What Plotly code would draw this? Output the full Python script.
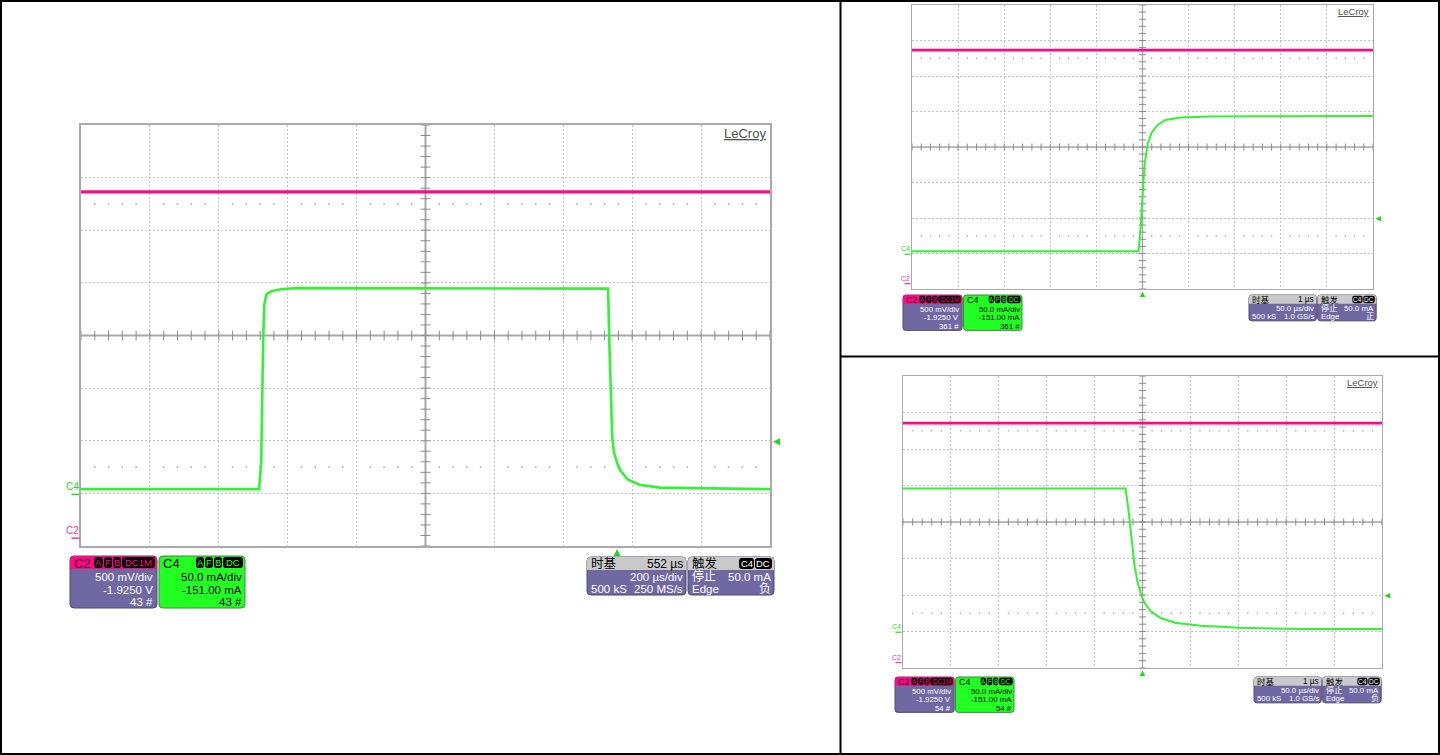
import plotly.graph_objects as go

W, H = 1440, 755

# ---------------- waveform data ----------------
# time in µs (0 = trigger), C4 = load current in mA, C2 = supply voltage in V

# full pulse, 200 µs/div, trigger on the falling edge
main_time = [-1556, -1039, -1033, -1030, -1027, -1024, -1018, -1004, -975, -930,
             -500, -26, -22, -18, -14, -9, 0, 9, 32, 67, 125, 444]
main_c4 = [5, 5, 30, 100, 150, 180, 190, 193, 195, 196,
           196, 195.5, 140, 90, 55, 40, 30, 23, 14, 9, 6.5, 5]
main_c2_time = [-1556, 444]
main_c2 = [3.29, 3.29]

# rising edge, 50 µs/div
rise_time = [-250, -4.3, -2.2, 0, 2.2, 5.4, 9.8, 16.3, 25, 41, 74, 250]
rise_c4 = [4, 4, 34, 83, 126, 154, 171, 182, 189, 192.5, 194, 194.6]
rise_c2_time = [-250, 250]
rise_c2 = [3.29, 3.29]

# falling edge, 50 µs/div
fall_time = [-250, -17.7, -14.6, -11.5, -8.4, -5.2, -2.1, 2.1, 8.4, 18.8, 34, 60.5,
             102, 165, 250]
fall_c4 = [197, 197, 167, 126, 92, 69, 54, 40, 29, 19.5, 13, 8.8, 6, 4.5, 4.4]
fall_c2_time = [-250, 250]
fall_c2 = [3.28, 3.28]

# vertical settings of the two channels
C4_SCALE, C4_OFFSET = 50.0, -151.0     # mA/div, mA
C2_SCALE, C2_OFFSET = 0.5, -1.925      # V/div, V
TRIG_LEVEL = 50.0                      # mA

panels = [
    dict(plot=(81, 125, 770, 546), t_left=-1556, t_div=200,
         time=main_time, c4=main_c4, c2t=main_c2_time, c2=main_c2,
         ch_org=(70, 556), tb_org=(587, 557), s=1.0, count="43 #",
         delay="552 µs", tdiv="200 µs/div", srate="250 MS/s", edge="负",
         lw=2.6, big=True),
    dict(plot=(912, 5, 1373, 289), t_left=-250, t_div=50,
         time=rise_time, c4=rise_c4, c2t=rise_c2_time, c2=rise_c2,
         ch_org=(903, 295), tb_org=(1249, 295), s=0.68, count="361 #",
         delay="1 µs", tdiv="50.0 µs/div", srate="1.0 GS/s", edge="正",
         lw=2.0, big=False),
    dict(plot=(903, 376, 1382, 668), t_left=-250, t_div=50,
         time=fall_time, c4=fall_c4, c2t=fall_c2_time, c2=fall_c2,
         ch_org=(895, 677), tb_org=(1254, 677), s=0.68, count="54 #",
         delay="1 µs", tdiv="50.0 µs/div", srate="1.0 GS/s", edge="负",
         lw=2.0, big=False),
]

RED = "#ff0a84"
GREEN = "#33f233"
TRIG_GREEN = "#1ed81e"
BOX_BODY = "#7068a2"
BOX_EDGE = "#4d4a6e"
HEAD_GRAY = "#c9c9c9"
GRID = "#c2c2c2"
CROSS = "#a8a8a8"
FONT = "Liberation Sans, Arial, Noto Sans CJK SC"


def X(px):
    return px / W


def Y(py):
    return 1 - py / H


fig = go.Figure()
shapes, annotations = [], []


def text(x, y, s, size, color, anchor="left", yanchor="middle"):
    annotations.append(dict(
        x=X(x), y=Y(y), xref="paper", yref="paper", text=s, showarrow=False,
        xanchor=anchor, yanchor=yanchor, borderpad=0,
        font=dict(family=FONT, size=size, color=color)))


def rbox(x0, y0, x1, y1, r, fill, edge=None, lw=1, top_only=False):
    if top_only:
        p = (f"M {X(x0)},{Y(y1)} L {X(x0)},{Y(y0 + r)} Q {X(x0)},{Y(y0)} {X(x0 + r)},{Y(y0)} "
             f"L {X(x1 - r)},{Y(y0)} Q {X(x1)},{Y(y0)} {X(x1)},{Y(y0 + r)} "
             f"L {X(x1)},{Y(y1)} Z")
    else:
        p = (f"M {X(x0 + r)},{Y(y0)} L {X(x1 - r)},{Y(y0)} Q {X(x1)},{Y(y0)} {X(x1)},{Y(y0 + r)} "
             f"L {X(x1)},{Y(y1 - r)} Q {X(x1)},{Y(y1)} {X(x1 - r)},{Y(y1)} "
             f"L {X(x0 + r)},{Y(y1)} Q {X(x0)},{Y(y1)} {X(x0)},{Y(y1 - r)} "
             f"L {X(x0)},{Y(y0 + r)} Q {X(x0)},{Y(y0)} {X(x0 + r)},{Y(y0)} Z")
    shapes.append(dict(type="path", path=p, xref="paper", yref="paper",
                       fillcolor=fill, layer="above",
                       line=dict(color=edge if edge else fill, width=lw if edge else 0)))


def tags(right, top, s, items, txt_color):
    # small black badges, right aligned
    x = right
    for label, w in reversed(items):
        rbox(x - w * s, top + 1 * s, x, top + 12 * s, 3 * s, "#000000")
        text(x - w * s / 2, top + 6.7 * s, label, 9.5 * s, txt_color, "center")
        x -= (w + 1) * s


def channel_boxes(ox, oy, s, count):
    w, h, hb = 87, 52, 13
    # C2 readout
    rbox(ox, oy, ox + w * s, oy + h * s, 4 * s, BOX_BODY, BOX_EDGE)
    rbox(ox, oy, ox + w * s, oy + hb * s, 4 * s, RED, top_only=True)
    text(ox + 3 * s, oy + 7 * s, "C2", 13 * s, "#3a0022")
    tags(ox + (w - 2) * s, oy, s, [("A", 9), ("F", 8), ("B", 8), ("DC1M", 33)], RED)
    for dy, t in ((21, "500 mV/div"), (33.5, "-1.9250 V"), (46, count)):
        text(ox + (w - 3) * s, oy + dy * s, t, 11.5 * s, "#ffffff", "right")
    # C4 readout
    cx = ox + 89 * s
    w4 = 86
    rbox(cx, oy, cx + w4 * s, oy + h * s, 4 * s, "#22ff22", "#3c8a3c")
    text(cx + 3 * s, oy + 7 * s, "C4", 13 * s, "#000000")
    tags(cx + (w4 - 2) * s, oy, s, [("A", 8), ("F", 8), ("B", 8), ("DC", 20)], "#22ff22")
    for dy, t in ((21, "50.0 mA/div"), (33.5, "-151.00 mA"), (46, count)):
        text(cx + (w4 - 2) * s, oy + dy * s, t, 11.5 * s, "#000000", "right")


def time_boxes(ox, oy, s, delay, tdiv, srate, edge):
    w, h, hb = 99, 38, 13
    rbox(ox, oy, ox + w * s, oy + h * s, 4 * s, BOX_BODY, BOX_EDGE)
    rbox(ox, oy, ox + w * s, oy + hb * s, 4 * s, HEAD_GRAY, top_only=True)
    text(ox + 3 * s, oy + 6.8 * s, "时基", 12.5 * s, "#000000")
    text(ox + (w - 2) * s, oy + 6.8 * s, delay, 12 * s, "#000000", "right")
    text(ox + (w - 2) * s, oy + 19.5 * s, tdiv, 11.5 * s, "#ffffff", "right")
    text(ox + 3 * s, oy + 31.5 * s, "500 kS", 11.5 * s, "#ffffff")
    text(ox + (w - 2) * s, oy + 31.5 * s, srate, 11.5 * s, "#ffffff", "right")
    tx = ox + 101 * s
    wt = 86
    rbox(tx, oy, tx + wt * s, oy + h * s, 4 * s, BOX_BODY, BOX_EDGE)
    rbox(tx, oy, tx + wt * s, oy + hb * s, 4 * s, HEAD_GRAY, top_only=True)
    text(tx + 3 * s, oy + 6.8 * s, "触发", 12.5 * s, "#000000")
    tags(tx + (wt - 2) * s, oy, s, [("C4", 15), ("DC", 17)], "#ffffff")
    text(tx + 3 * s, oy + 19.5 * s, "停止", 12 * s, "#ffffff")
    text(tx + (wt - 2) * s, oy + 19.5 * s, "50.0 mA", 11.5 * s, "#ffffff", "right")
    text(tx + 3 * s, oy + 31.5 * s, "Edge", 11.5 * s, "#ffffff")
    text(tx + (wt - 2) * s, oy + 31.5 * s, edge, 12 * s, "#ffffff", "right")


for k, p in enumerate(panels):
    n = k + 1
    xa = "x" if n == 1 else f"x{n}"
    yi_n, yv_n = 2 * k + 1, 2 * k + 2
    ya = "y" if yi_n == 1 else f"y{yi_n}"
    yv = f"y{yv_n}"
    px0, py0, px1, py1 = p["plot"]
    s = p["s"]
    big = p["big"]

    t0 = p["t_left"]
    t1 = t0 + 10 * p["t_div"]
    ic = -C4_OFFSET
    i0, i1 = ic - 4 * C4_SCALE, ic + 4 * C4_SCALE
    vc = -C2_OFFSET
    v0, v1 = vc - 4 * C2_SCALE, vc + 4 * C2_SCALE
    tc = (t0 + t1) / 2

    frame = dict(showticklabels=False, ticks="", zeroline=False, showline=True,
                 mirror=True, linecolor="#aaaaaa", linewidth=2 if big else 1.2,
                 showgrid=True, gridcolor=GRID, gridwidth=1, griddash="2px,2px",
                 fixedrange=True)
    fig.update_layout(**{
        ("xaxis" if n == 1 else f"xaxis{n}"): dict(
            domain=[X(px0), X(px1)], range=[t0, t1], anchor=ya,
            tick0=t0, dtick=p["t_div"], **frame),
        ("yaxis" if yi_n == 1 else f"yaxis{yi_n}"): dict(
            domain=[Y(py1), Y(py0)], range=[i0, i1], anchor=xa,
            tick0=i0, dtick=C4_SCALE, **frame),
        f"yaxis{yv_n}": dict(overlaying=ya, range=[v0, v1], anchor=xa,
                             visible=False, fixedrange=True),
    })

    common = dict(xaxis=xa, yaxis=ya, hoverinfo="skip", showlegend=False)
    cw = 2 if big else 1.3
    tick_len = 7 if big else 5
    # centre crosshair with fifth-division ticks
    fig.add_trace(go.Scatter(x=[t0, t1], y=[ic, ic], mode="lines",
                             line=dict(color=CROSS, width=cw), **common))
    fig.add_trace(go.Scatter(x=[tc, tc], y=[i0, i1], mode="lines",
                             line=dict(color=CROSS, width=cw), **common))
    sub_t = p["t_div"] / 5
    sub_i = C4_SCALE / 5
    fig.add_trace(go.Scatter(
        x=[tc + j * sub_t for j in range(-25, 26)], y=[ic] * 51, mode="markers",
        marker=dict(symbol="line-ns-open", size=tick_len, color="#8c8c8c",
                    line=dict(width=1)), **common))
    fig.add_trace(go.Scatter(
        x=[tc] * 41, y=[ic + j * sub_i for j in range(-20, 21)], mode="markers",
        marker=dict(symbol="line-ew-open", size=tick_len, color="#8c8c8c",
                    line=dict(width=1)), **common))
    # dotted rows half way through the outer divisions
    dots_x = [tc + j * sub_t for j in range(-24, 25) if j % 5 != 0]
    for yy in (ic + 2.5 * C4_SCALE, ic - 2.5 * C4_SCALE):
        fig.add_trace(go.Scatter(
            x=dots_x, y=[yy] * len(dots_x), mode="markers",
            marker=dict(symbol="square", size=1.6 if big else 1.3, color="#a8a8a8",
                        line=dict(width=0)), **common))

    # waveforms
    fig.add_trace(go.Scatter(x=p["c2t"], y=p["c2"], mode="lines", xaxis=xa, yaxis=yv,
                             line=dict(color=RED, width=p["lw"] + 0.6),
                             hoverinfo="skip", showlegend=False))
    fig.add_trace(go.Scatter(x=p["time"], y=p["c4"], mode="lines",
                             line=dict(color=GREEN, width=p["lw"]), **common))

    # trigger level marker (right of the grid) and trigger position marker (below it)
    pw, ph = px1 - px0, py1 - py0
    gap = 3 if big else 2.5
    tri = 7 if big else 5.5
    du = (i1 - i0) / ph          # mA per pixel
    tu = (t1 - t0) / pw          # µs per pixel
    shapes.append(dict(
        type="path", xref="paper", yref=ya, fillcolor=TRIG_GREEN, layer="above",
        line=dict(width=0),
        path=(f"M {X(px1 + gap)},{TRIG_LEVEL} L {X(px1 + gap + tri)},{TRIG_LEVEL + tri / 2 * du} "
              f"L {X(px1 + gap + tri)},{TRIG_LEVEL - tri / 2 * du} Z")))
    shapes.append(dict(
        type="path", xref=xa, yref="paper", fillcolor=TRIG_GREEN, layer="above",
        line=dict(width=0),
        path=(f"M 0,{Y(py1 + gap)} L {tri / 2 * tu},{Y(py1 + gap + tri)} "
              f"L {-tri / 2 * tu},{Y(py1 + gap + tri)} Z")))

    # channel ground markers on the left edge
    fs = 10 if big else 7
    ul = 8 if big else 6
    for ref, col, lab in ((ya, "#22dd22", "C4"), (yv, "#ff3399", "C2")):
        annotations.append(dict(
            x=X(px0 - 1.5), y=0, xref="paper", yref=ref, text=lab, showarrow=False,
            xanchor="right", yanchor="bottom", borderpad=0, yshift=1,
            font=dict(family=FONT, size=fs, color=col)))
        shapes.append(dict(type="line", xref="paper", yref=ref,
                           x0=X(px0 - 1.5 - ul), x1=X(px0 - 1.5), y0=0, y1=0,
                           line=dict(color=col, width=1.5 if big else 1.2)))

    # logo
    annotations.append(dict(
        x=X(px1 - 2), y=Y(py0 + (8.5 if big else 6.5)), xref="paper", yref="paper",
        text="<u>LeCroy</u>", showarrow=False, xanchor="right", yanchor="middle",
        font=dict(family=FONT, size=13 if big else 9.5, color="#505050")))

    channel_boxes(p["ch_org"][0], p["ch_org"][1], s, p["count"])
    time_boxes(p["tb_org"][0], p["tb_org"][1], s, p["delay"], p["tdiv"],
               p["srate"], p["edge"])

# outer frame and panel dividers
for sh in (
    dict(x0=0, x1=1, y0=0, y1=0), dict(x0=0, x1=1, y0=1, y1=1),
    dict(x0=0, x1=0, y0=0, y1=1), dict(x0=1, x1=1, y0=0, y1=1),
):
    shapes.append(dict(type="line", xref="paper", yref="paper",
                       line=dict(color="#000000", width=4), **sh))
shapes.append(dict(type="line", xref="paper", yref="paper", x0=X(840.5), x1=X(840.5),
                   y0=0, y1=1, line=dict(color="#000000", width=2)))
shapes.append(dict(type="line", xref="paper", yref="paper", x0=X(840), x1=1,
                   y0=Y(356.5), y1=Y(356.5), line=dict(color="#000000", width=2)))

fig.update_layout(
    width=W, height=H, margin=dict(l=0, r=0, t=0, b=0),
    paper_bgcolor="#ffffff", plot_bgcolor="#ffffff",
    showlegend=False, shapes=shapes, annotations=annotations,
)

fig.write_html("out.html", config={"displayModeBar": False})
